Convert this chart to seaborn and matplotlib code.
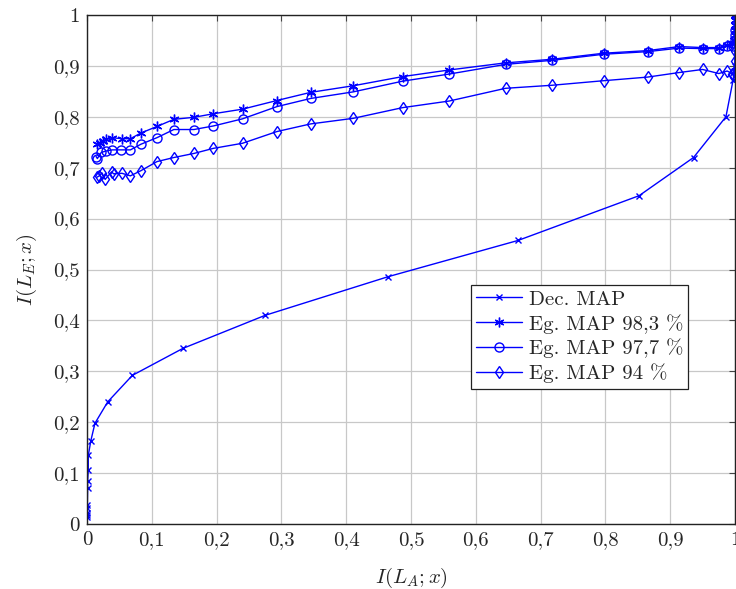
import matplotlib
matplotlib.use("Agg")
import matplotlib.pyplot as plt
import seaborn as sns
import numpy as np

# Dec. MAP
dec_x = [0.0, 0.0, 0.0, 0.0, 0.0005, 0.001, 0.001, 0.002, 0.002, 0.006, 0.0123, 0.032, 0.07, 0.148, 0.275,
         0.465, 0.665, 0.852, 0.936, 0.986, 0.997, 1.0, 1.0, 1.0, 1.0]
dec_y = [0.014, 0.018, 0.022, 0.031, 0.037, 0.07, 0.085, 0.107, 0.135, 0.164, 0.198, 0.24, 0.292, 0.345, 0.41,
         0.486, 0.557, 0.645, 0.72, 0.80, 0.872, 0.90, 0.94, 0.97, 1.0]

# Eg. MAP 98,3 %
s983_x = [0.016, 0.02, 0.025, 0.03, 0.038, 0.054, 0.067, 0.083, 0.108, 0.134, 0.165, 0.195, 0.24, 0.293,
          0.345, 0.411, 0.487, 0.559, 0.646, 0.718, 0.798, 0.865, 0.914, 0.95, 0.975, 0.988, 0.995, 0.998,
          1.0, 1.0, 1.0, 1.0, 1.0]
s983_y = [0.746, 0.749, 0.753, 0.756, 0.759, 0.757, 0.757, 0.768, 0.781, 0.795, 0.799, 0.806, 0.815, 0.832,
          0.848, 0.861, 0.879, 0.892, 0.906, 0.913, 0.925, 0.93, 0.938, 0.936, 0.936, 0.941, 0.945, 0.95,
          0.96, 0.97, 0.98, 0.99, 1.0]

# Eg. MAP 97,7 %
s977_x = [0.014, 0.016, 0.022, 0.03, 0.039, 0.053, 0.067, 0.083, 0.108, 0.134, 0.165, 0.195, 0.24, 0.293,
          0.345, 0.411, 0.487, 0.559, 0.646, 0.718, 0.798, 0.865, 0.914, 0.95, 0.975, 0.988, 0.997, 1.0, 1.0, 1.0]
s977_y = [0.722, 0.718, 0.73, 0.733, 0.735, 0.735, 0.735, 0.746, 0.759, 0.775, 0.775, 0.782, 0.796, 0.82,
          0.836, 0.849, 0.87, 0.884, 0.903, 0.911, 0.923, 0.928, 0.935, 0.934, 0.934, 0.939, 0.94, 0.95, 0.96, 0.97]

# Eg. MAP 94 %
s94_x = [0.015, 0.019, 0.023, 0.028, 0.038, 0.041, 0.054, 0.067, 0.083, 0.108, 0.134, 0.165, 0.195, 0.24,
         0.293, 0.345, 0.411, 0.487, 0.559, 0.646, 0.718, 0.798, 0.865, 0.914, 0.95, 0.975, 0.988, 0.995,
         0.998, 1.0, 1.0, 1.0]
s94_y = [0.681, 0.684, 0.69, 0.677, 0.692, 0.688, 0.689, 0.684, 0.694, 0.712, 0.72, 0.728, 0.738, 0.748,
         0.771, 0.786, 0.797, 0.818, 0.831, 0.856, 0.862, 0.871, 0.878, 0.887, 0.893, 0.885, 0.89, 0.885,
         0.88, 0.89, 0.91, 0.93]

labels = ["Dec. MAP", "Eg. MAP 98,3 %", "Eg. MAP 97,7 %", "Eg. MAP 94 %"]
xticks = [0, 0.1, 0.2, 0.3, 0.4, 0.5, 0.6, 0.7, 0.8, 0.9, 1]
xticklabels = ["0", "0,1", "0,2", "0,3", "0,4", "0,5", "0,6", "0,7", "0,8", "0,9", "1"]
yticks = xticks
yticklabels = xticklabels

sns.set_style("white")
plt.rcParams["font.family"] = ["serif"]
plt.rcParams["font.serif"] = ["cmr10", "DejaVu Serif"]
plt.rcParams["mathtext.fontset"] = "cm"
plt.rcParams["axes.unicode_minus"] = False

fig = plt.figure(figsize=(7.36, 5.89), dpi=100)
ax = fig.add_axes([87 / 736, 65 / 589, 648 / 736, 509 / 589])

blue = "#0000ff"
common = dict(color=blue, linewidth=1.0, sort=False, estimator=None, ax=ax,
              markeredgecolor=blue, markeredgewidth=1.0)
sns.lineplot(x=dec_x, y=dec_y, marker="x", markersize=5, label=labels[0], **common)
sns.lineplot(x=s983_x, y=s983_y, marker=(6, 2, 0), markersize=7, label=labels[1], **common)
sns.lineplot(x=s977_x, y=s977_y, marker="o", markersize=6.5, markerfacecolor="none",
             label=labels[2], **common)
sns.lineplot(x=s94_x, y=s94_y, marker="d", markersize=6, markerfacecolor="none",
             label=labels[3], **common)

ax.set_xlim(0, 1)
ax.set_ylim(0, 1)
ax.set_xticks(xticks)
ax.set_xticklabels(xticklabels)
ax.set_yticks(yticks)
ax.set_yticklabels(yticklabels)
ax.tick_params(axis="both", direction="in", length=4, width=0.8, labelsize=15,
               top=True, right=True, pad=5, color="#444444")
ax.grid(True, color="#c8c8c8", linewidth=0.9)
ax.set_axisbelow(True)
for sp in ax.spines.values():
    sp.set_color("#222222")
    sp.set_linewidth(1.0)

ax.set_xlabel(r"$I(L_A;x)$", fontsize=15, labelpad=12)
ax.set_ylabel(r"$I(L_E;x)$", fontsize=15, labelpad=10)

leg = ax.legend(loc="upper left", bbox_to_anchor=(0.593, 0.47), fontsize=15,
                frameon=True, fancybox=False, edgecolor="#222222", framealpha=1,
                borderpad=0.25, labelspacing=0.25, handlelength=2.2, handletextpad=0.3,
                borderaxespad=0)
leg.get_frame().set_linewidth(0.9)

fig.savefig("out.png", dpi=100)
